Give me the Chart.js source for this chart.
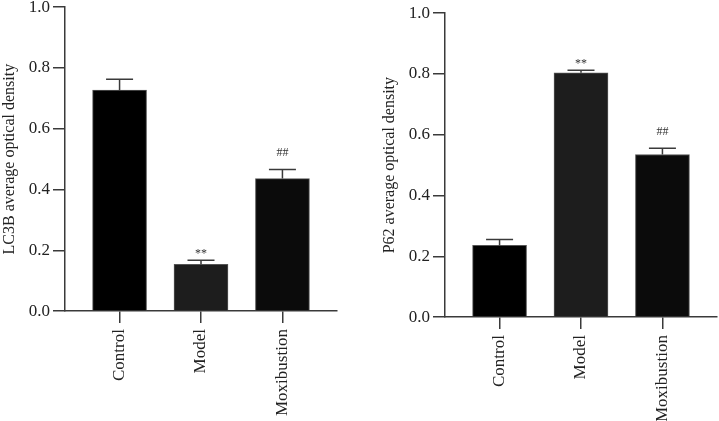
<!DOCTYPE html>
<html>
<head>
<meta charset="utf-8">
<script src="https://cdn.jsdelivr.net/npm/chart.js@4.4.0/dist/chart.umd.min.js"></script>
<style>
  html, body { margin: 0; padding: 0; background: #fff; }
  body { width: 719px; height: 421px; position: relative; overflow: hidden; }
  .box { position: absolute; }
  #left { left: 0; top: -6px; width: 339px; height: 436px; }
  #right { left: 380px; top: 0; width: 339px; height: 436px; }
</style>
</head>
<body>
<div class="box" id="left"><canvas id="lc3b"></canvas></div>
<div class="box" id="right"><canvas id="p62"></canvas></div>
<script>
// values (mean, error bar half-height)
const groups = ['Control', 'Model', 'Moxibustion'];
const lc3bMean = [0.727, 0.154, 0.436];
const lc3bErr = [0.036, 0.013, 0.030];
const p62Mean = [0.236, 0.804, 0.535];
const p62Err = [0.019, 0.008, 0.021];
const marks = ['', '**', '##'];
const barColors = ['#000000', '#1d1d1d', '#0b0b0b'];

const AXIS = '#3a3a3a';
const SERIF = "'Liberation Serif', 'DejaVu Serif', serif";

function errorBarPlugin(err, labels) {
  return {
    id: 'errorBars',
    afterDatasetsDraw(chart) {
      const meta = chart.getDatasetMeta(0);
      const ys = chart.scales.y;
      const ctx = chart.ctx;
      const data = chart.data.datasets[0].data;
      ctx.save();
      ctx.strokeStyle = AXIS;
      ctx.lineWidth = 1.5;
      meta.data.forEach((bar, i) => {
        const v = data[i].y;
        const top = ys.getPixelForValue(v + err[i]);
        const base = ys.getPixelForValue(v);
        ctx.beginPath();
        ctx.moveTo(bar.x, base);
        ctx.lineTo(bar.x, top);
        ctx.moveTo(bar.x - 13.5, top);
        ctx.lineTo(bar.x + 13.5, top);
        ctx.stroke();
        if (labels[i]) {
          // asterisks sit high in the em box, hashes do not
          const lift = labels[i] === '**' ? 3 : 13;
          ctx.fillStyle = '#333';
          ctx.font = "12px " + SERIF;
          ctx.textAlign = 'center';
          ctx.textBaseline = 'alphabetic';
          ctx.fillText(labels[i], bar.x, top - lift);
        }
      });
      ctx.restore();
    }
  };
}

function makeChart(id, mean, err, title) {
  return new Chart(document.getElementById(id), {
    type: 'bar',
    data: {
      datasets: [{
        data: groups.map((g, i) => ({ x: i, y: mean[i] })),
        backgroundColor: barColors,
        borderColor: '#555',
        borderWidth: 1,
        barThickness: 54
      }]
    },
    options: {
      animation: false,
      responsive: true,
      maintainAspectRatio: false,
      layout: { padding: { top: 0, right: 2, bottom: 8, left: 0 } },
      scales: {
        x: {
          type: 'linear',
          min: -0.67,
          max: 2.67,
          offset: false,
          afterBuildTicks: s => { s.ticks = groups.map((g, i) => ({ value: i })); },
          border: { color: AXIS, width: 1.5 },
          grid: { offset: false, drawOnChartArea: false, tickLength: 12, color: AXIS, lineWidth: 1.5 },
          ticks: {
            callback: v => groups[v],
            minRotation: 90,
            maxRotation: 90,
            padding: 6,
            color: '#222',
            font: { family: SERIF, size: 17 }
          }
        },
        y: {
          min: 0,
          max: 1,
          afterFit: s => { s.width = 65; },
          border: { color: AXIS, width: 1.5 },
          grid: { drawOnChartArea: false, tickLength: 12, color: AXIS, lineWidth: 1.5 },
          ticks: {
            stepSize: 0.2,
            padding: 3,
            color: '#222',
            font: { family: SERIF, size: 17 },
            callback: v => v.toFixed(1)
          },
          title: {
            display: true,
            text: title,
            padding: 0,
            color: '#222',
            font: { family: SERIF, size: 16 }
          }
        }
      },
      plugins: {
        legend: { display: false },
        tooltip: { enabled: false }
      }
    },
    plugins: [errorBarPlugin(err, marks)]
  });
}

makeChart('lc3b', lc3bMean, lc3bErr, 'LC3B average optical density');
makeChart('p62', p62Mean, p62Err, 'P62 average optical density');
</script>
</body>
</html>
